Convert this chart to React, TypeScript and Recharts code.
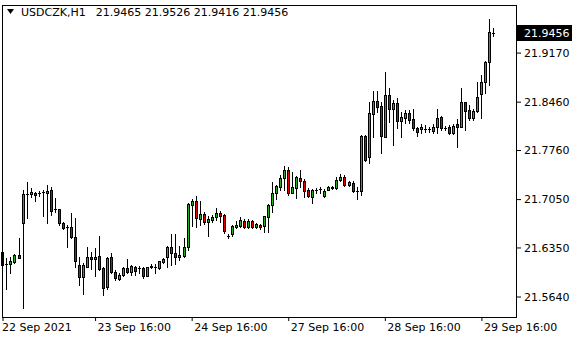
import { ComposedChart, Bar, XAxis, YAxis } from "recharts";

// USDCZK H1, 22 Sep 17:00 .. 29 Sep 19:00
const OPEN = [
	21.6291, 21.6118, 21.6118, 21.6146, 21.6248, 21.6711, 21.713, 21.713, 21.7145, 21.7145,
	21.7159, 21.7145, 21.7188, 21.6913, 21.6913, 21.6711, 21.6653, 21.6653, 21.6508, 21.6103,
	21.5929, 21.6074, 21.6219, 21.619, 21.6233, 21.606, 21.5785, 21.6219, 21.6002, 21.59,
	21.5958, 21.606, 21.6002, 21.6074, 21.606, 21.606, 21.5944, 21.6074, 21.6074, 21.606,
	21.6146, 21.6219, 21.6364, 21.6277, 21.6219, 21.6233, 21.6364, 21.6971, 21.7029, 21.6769,
	21.6841, 21.6725, 21.6754, 21.6798, 21.6855, 21.6827, 21.6523, 21.6552, 21.6653, 21.6667,
	21.674, 21.6653, 21.674, 21.6653, 21.6682, 21.6667, 21.6798, 21.6971, 21.7145, 21.7232,
	21.7362, 21.7478, 21.7145, 21.7217, 21.7362, 21.7319, 21.7188, 21.7087, 21.7188, 21.7203,
	21.7101, 21.7188, 21.7217, 21.7217, 21.7333, 21.7376, 21.7261, 21.729, 21.7174, 21.7174,
	21.797, 21.7666, 21.8288, 21.8476, 21.8404, 21.7955, 21.8563, 21.836, 21.8447, 21.8187,
	21.823, 21.8302, 21.8216, 21.8085, 21.8071, 21.8071, 21.8071, 21.8042, 21.81, 21.8245,
	21.8085, 21.81, 21.8013, 21.8143, 21.81, 21.8462, 21.8346, 21.823, 21.8331, 21.8577,
	21.8751, 21.904, 21.9465,
];
const HIGH = [
	21.6378, 21.6204, 21.6219, 21.6262, 21.6494, 21.7188, 21.7304, 21.7217, 21.7159, 21.7174,
	21.7188, 21.7261, 21.7232, 21.7073, 21.6913, 21.6725, 21.6682, 21.6855, 21.6783, 21.6219,
	21.6132, 21.6364, 21.6291, 21.6349, 21.6523, 21.6074, 21.6219, 21.6277, 21.6031, 21.5987,
	21.6074, 21.619, 21.6103, 21.6089, 21.6089, 21.6074, 21.6074, 21.6118, 21.6118, 21.6161,
	21.6204, 21.6378, 21.6552, 21.6552, 21.6378, 21.6494, 21.7, 21.7058, 21.7101, 21.7029,
	21.687, 21.6812, 21.6827, 21.6928, 21.6884, 21.6841, 21.6552, 21.6682, 21.674, 21.6798,
	21.6769, 21.6769, 21.6754, 21.6711, 21.6696, 21.6812, 21.6986, 21.7304, 21.7261, 21.7405,
	21.7536, 21.7521, 21.7449, 21.7391, 21.7478, 21.7347, 21.7217, 21.7203, 21.7217, 21.7232,
	21.7203, 21.7246, 21.7246, 21.7376, 21.742, 21.7405, 21.7319, 21.7319, 21.7232, 21.7984,
	21.7984, 21.8462, 21.8621, 21.8621, 21.8462, 21.8896, 21.8664, 21.8491, 21.852, 21.8317,
	21.8346, 21.8346, 21.836, 21.81, 21.8143, 21.8129, 21.81, 21.8143, 21.836, 21.8259,
	21.8114, 21.8129, 21.8143, 21.8216, 21.8664, 21.8466, 21.8418, 21.836, 21.8751, 21.8852,
	21.9055, 21.9663, 21.9526,
];
const LOW = [
	21.6074, 21.5756, 21.5987, 21.6132, 21.62, 21.5481, 21.6783, 21.7087, 21.7029, 21.7101,
	21.6812, 21.6711, 21.6827, 21.687, 21.6682, 21.6624, 21.6364, 21.6494, 21.6074, 21.5814,
	21.5683, 21.6074, 21.6045, 21.5944, 21.6031, 21.5669, 21.5756, 21.5987, 21.5886, 21.5886,
	21.5944, 21.5987, 21.5958, 21.5958, 21.5987, 21.5915, 21.5944, 21.606, 21.5987, 21.6045,
	21.6132, 21.6074, 21.6103, 21.6118, 21.6175, 21.6219, 21.632, 21.6667, 21.6653, 21.6682,
	21.6696, 21.6523, 21.6725, 21.6754, 21.6725, 21.6566, 21.6494, 21.6523, 21.6638, 21.6653,
	21.6638, 21.6638, 21.6638, 21.6638, 21.6624, 21.6581, 21.6581, 21.687, 21.7058, 21.7188,
	21.7188, 21.7116, 21.714, 21.7073, 21.7232, 21.7087, 21.7087, 21.7, 21.7145, 21.7145,
	21.7087, 21.7185, 21.7203, 21.7203, 21.7319, 21.7246, 21.7246, 21.7159, 21.7058, 21.7116,
	21.7608, 21.7579, 21.7955, 21.8317, 21.7724, 21.795, 21.8172, 21.784, 21.8085, 21.7955,
	21.8158, 21.8158, 21.8056, 21.797, 21.8013, 21.8028, 21.8028, 21.8013, 21.8013, 21.8056,
	21.8056, 21.7999, 21.7999, 21.7811, 21.8095, 21.8056, 21.8201, 21.8201, 21.8317, 21.823,
	21.8592, 21.8708, 21.9416,
];
const CLOSE = [
	21.6103, 21.612, 21.6161, 21.6248, 21.6204, 21.713, 21.713, 21.7159, 21.7116, 21.7145,
	21.7159, 21.7174, 21.6884, 21.6913, 21.6711, 21.6638, 21.6653, 21.6508, 21.6161, 21.5929,
	21.6103, 21.6219, 21.619, 21.6219, 21.6045, 21.577, 21.6204, 21.6002, 21.5915, 21.5958,
	21.606, 21.6002, 21.6089, 21.6016, 21.606, 21.5944, 21.6074, 21.6089, 21.6074, 21.6161,
	21.619, 21.6364, 21.6277, 21.6219, 21.6248, 21.6364, 21.6986, 21.7029, 21.6783, 21.6841,
	21.6725, 21.6769, 21.6798, 21.6855, 21.6812, 21.6595, 21.652, 21.6667, 21.6682, 21.6754,
	21.6653, 21.674, 21.6653, 21.6696, 21.6653, 21.6812, 21.6971, 21.7145, 21.7246, 21.7362,
	21.7478, 21.7145, 21.7232, 21.7376, 21.7319, 21.7174, 21.7101, 21.7188, 21.719, 21.72,
	21.7174, 21.7232, 21.7232, 21.7333, 21.7376, 21.7261, 21.7304, 21.7174, 21.717, 21.797,
	21.7622, 21.8302, 21.8476, 21.8389, 21.797, 21.8563, 21.836, 21.8447, 21.8187, 21.8245,
	21.8302, 21.8201, 21.8085, 21.8028, 21.81, 21.8068, 21.8074, 21.81, 21.823, 21.8085,
	21.8082, 21.8013, 21.8114, 21.81, 21.8462, 21.8331, 21.823, 21.8331, 21.8534, 21.8751,
	21.904, 21.9475, 21.9456,
];

const TICK_BARS = [0, 23, 47, 71, 95, 119];
const TICK_LABELS = ["22 Sep 2021", "23 Sep 16:00", "24 Sep 16:00", "27 Sep 16:00", "28 Sep 16:00", "29 Sep 16:00"];
const PRICE_TICKS = [21.564, 21.635, 21.705, 21.776, 21.846, 21.917];

const SYMBOL = "USDCZK,H1";

const BULL = "#22b022";
const BEAR = "#e00000";
const FONT = "DejaVu Sans, sans-serif";

const data = OPEN.map((o, i) => ({
	i,
	open: o,
	high: HIGH[i],
	low: LOW[i],
	close: CLOSE[i],
	range: [LOW[i], HIGH[i]],
}));
const last = data[data.length - 1];

function Candle(props: any) {
	const { x, y, width, height, payload } = props;
	if (x == null || y == null) return null;
	const top = Math.min(y, y + height);
	const h = Math.abs(height);
	const { open, close, high, low } = payload;
	const span = high - low || 1e-9;
	const py = (v: number) => top + ((high - v) / span) * h;
	const cx = Math.floor(x + width / 2) + 0.5;
	const yHigh = Math.round(py(high));
	const yLow = Math.round(py(low));
	const bTop = Math.round(py(Math.max(open, close)));
	const bBot = Math.round(py(Math.min(open, close)));
	const up = close >= open;
	return (
		<g>
			<line x1={cx} x2={cx} y1={yHigh} y2={yLow + 1} stroke="#000" strokeWidth={1} />
			{bBot - bTop < 1 ? (
				<line x1={cx - 1.5} x2={cx + 1.5} y1={bTop + 0.5} y2={bTop + 0.5} stroke="#000" strokeWidth={1} />
			) : (
				<rect
					x={cx - 1}
					y={bTop + 0.5}
					width={2}
					height={bBot - bTop}
					fill={up ? BULL : BEAR}
					stroke="#000"
					strokeWidth={1}
				/>
			)}
		</g>
	);
}

function PriceTick(props: any) {
	const { x, y, payload } = props;
	const label = payload.value.toFixed(4);
	if (Math.abs(payload.value - last.close) < 1e-6) {
		return (
			<g>
				<rect x={517} y={Math.round(y) - 8} width={55} height={16} fill="#000" />
				<text x={x} y={y} dy="0.355em" fill="#fff" fontFamily={FONT} fontSize={11}>
					{label}
				</text>
			</g>
		);
	}
	return (
		<text x={x} y={y} dy="0.355em" fill="#000" fontFamily={FONT} fontSize={11}>
			{label}
		</text>
	);
}

function TimeTick(props: any) {
	const { x, y, payload } = props;
	const k = TICK_BARS.indexOf(payload.value);
	return (
		<text x={k === 0 ? x - 1 : x + 2} y={y} dy="0.71em" fill="#000" fontFamily={FONT} fontSize={11} textAnchor="start">
			{TICK_LABELS[k]}
		</text>
	);
}

export default function App() {
	return (
		<div style={{ position: "absolute", left: 0, top: 0, width: 580, height: 340, background: "#fff" }}>
			<ComposedChart width={580} height={340} data={data} margin={{ top: 5, right: 0, bottom: 0, left: 1 }}>
				<XAxis
					dataKey="i"
					type="category"
					ticks={TICK_BARS}
					interval={0}
					height={23}
					padding={{ left: 0, right: 21 }}
					axisLine={false}
					tickLine={{ stroke: "#000" }}
					tickSize={4}
					tickMargin={2}
					tick={<TimeTick />}
				/>
				<YAxis
					orientation="right"
					type="number"
					domain={[21.5351, 21.9866]}
					allowDataOverflow
					ticks={[...PRICE_TICKS, last.close]}
					interval={0}
					width={63}
					axisLine={false}
					tickLine={{ stroke: "#000" }}
					tickSize={4}
					tickMargin={3}
					tick={<PriceTick />}
				/>
				<Bar dataKey="range" isAnimationActive={false} shape={(p: any) => <Candle {...p} />} />
			</ComposedChart>
			<svg width={580} height={340} style={{ position: "absolute", left: 0, top: 0, pointerEvents: "none" }}>
				<rect x={2.5} y={5.5} width={514} height={312} fill="none" stroke="#000" strokeWidth={1} />
				<polygon points="7,9 14,9 10.5,14" fill="#000" />
				<text x={21} y={16} fontFamily={FONT} fontSize={11} fill="#000">
					{SYMBOL}
					<tspan dx={10}>
						{[last.open, last.high, last.low, last.close].map((v) => v.toFixed(4)).join(" ")}
					</tspan>
				</text>
			</svg>
		</div>
	);
}
